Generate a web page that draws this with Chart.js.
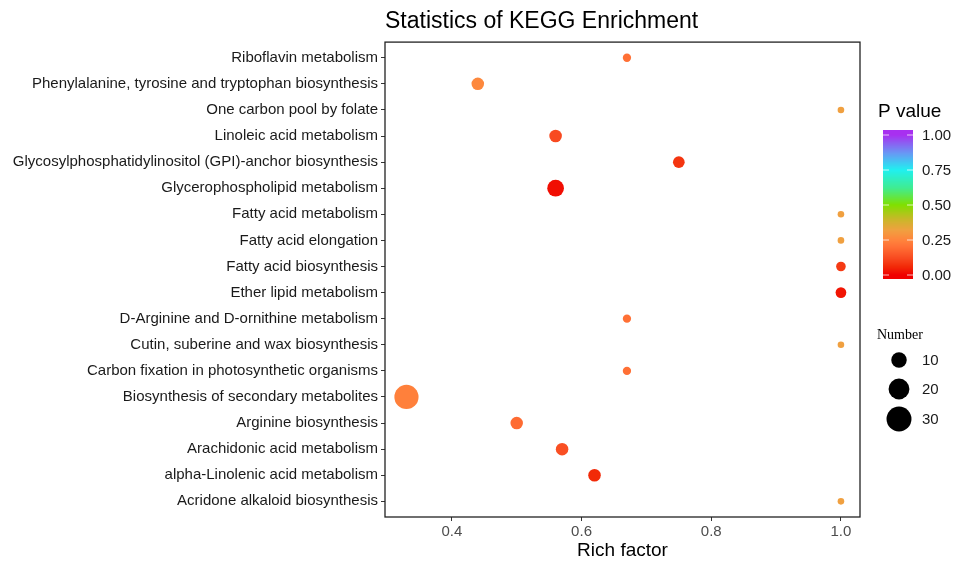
<!DOCTYPE html>
<html><head><meta charset="utf-8">
<script src="https://cdn.jsdelivr.net/npm/chart.js@4.4.0/dist/chart.umd.min.js"></script>
<style>html,body{margin:0;padding:0;background:#fff;}</style>
</head><body>
<canvas id="c" width="955" height="562"></canvas>
<script>
// ---------------- data ----------------
const pathways = [
  "Riboflavin metabolism",
  "Phenylalanine, tyrosine and tryptophan biosynthesis",
  "One carbon pool by folate",
  "Linoleic acid metabolism",
  "Glycosylphosphatidylinositol (GPI)-anchor biosynthesis",
  "Glycerophospholipid metabolism",
  "Fatty acid metabolism",
  "Fatty acid elongation",
  "Fatty acid biosynthesis",
  "Ether lipid metabolism",
  "D-Arginine and D-ornithine metabolism",
  "Cutin, suberine and wax biosynthesis",
  "Carbon fixation in photosynthetic organisms",
  "Biosynthesis of secondary metabolites",
  "Arginine biosynthesis",
  "Arachidonic acid metabolism",
  "alpha-Linolenic acid metabolism",
  "Acridone alkaloid biosynthesis"
];
const richFactor = [0.67, 0.44, 1.0, 0.56, 0.75, 0.56, 1.0, 1.0, 1.0, 1.0, 0.67, 1.0, 0.67, 0.33, 0.50, 0.57, 0.62, 1.0];
const geneNumber = [2, 6, 1, 6, 5, 12, 1, 1, 3, 4, 2, 1, 2, 28, 6, 6, 6, 1];
const pValue     = [0.20, 0.26, 0.32, 0.12, 0.08, 0.02, 0.32, 0.32, 0.09, 0.03, 0.20, 0.32, 0.20, 0.24, 0.19, 0.13, 0.06, 0.32];
const xTicks = [0.4, 0.6, 0.8, 1.0];
const pTicks = [0, 0.25, 0.5, 0.75, 1.0];
const sizeLegend = [10, 20, 30];

// ---------------- styles ----------------
const FONT = "'Liberation Sans', Arial, sans-serif";
const gradStops = [
  [0.00, [240, 0, 0]],
  [0.06, [242, 42, 8]],
  [0.12, [248, 74, 32]],
  [0.20, [255, 112, 53]],
  [0.25, [255, 132, 60]],
  [0.32, [240, 160, 64]],
  [0.40, [200, 184, 40]],
  [0.50, [128, 224, 0]],
  [0.62, [64, 236, 144]],
  [0.75, [32, 240, 240]],
  [0.87, [104, 152, 244]],
  [1.00, [168, 48, 240]]
];
function colorOf(p) {
  p = Math.max(0, Math.min(1, p));
  for (let i = 1; i < gradStops.length; i++) {
    const [p1, c1] = gradStops[i];
    const [p0, c0] = gradStops[i - 1];
    if (p <= p1) {
      const t = (p - p0) / (p1 - p0);
      const c = c0.map((v, k) => Math.round(v + (c1[k] - v) * t));
      return `rgb(${c[0]},${c[1]},${c[2]})`;
    }
  }
  const c = gradStops[gradStops.length - 1][1];
  return `rgb(${c[0]},${c[1]},${c[2]})`;
}
function radiusOf(n) { return (2.5 + 4.1 * Math.sqrt(n)) / 2; }

const points = pathways.map((name, i) => ({ x: richFactor[i], y: i + 1 }));

const legendPlugin = {
  id: 'legends',
  afterDraw(chart) {
    const ctx = chart.ctx;
    const ca = chart.chartArea;
    ctx.save();
    // panel border
    ctx.strokeStyle = '#222';
    ctx.lineWidth = 1.3;
    ctx.strokeRect(ca.left, ca.top, ca.right - ca.left, ca.bottom - ca.top);

    // P value colour bar
    ctx.fillStyle = '#000';
    ctx.font = `19px ${FONT}`;
    ctx.textAlign = 'left';
    ctx.textBaseline = 'middle';
    ctx.fillText('P value', 878, 112);
    const barL = 883, barW = 30, barTop = 130, barBot = 279, y0 = 275, y1 = 135;
    for (let y = barTop; y < barBot; y++) {
      const p = (y0 - (y + 0.5)) / (y0 - y1);
      ctx.fillStyle = colorOf(p);
      ctx.fillRect(barL, y, barW, 1);
    }
    ctx.strokeStyle = 'rgba(255,255,255,0.75)';
    ctx.lineWidth = 1;
    ctx.font = `15px ${FONT}`;
    pTicks.forEach(t => {
      const y = y0 - t * (y0 - y1);
      ctx.beginPath();
      ctx.moveTo(barL, y); ctx.lineTo(barL + 6, y);
      ctx.moveTo(barL + barW - 6, y); ctx.lineTo(barL + barW, y);
      ctx.stroke();
      ctx.fillStyle = '#1a1a1a';
      ctx.fillText(t.toFixed(2), 922, y + 0.5);
    });

    // Number size legend
    ctx.fillStyle = '#000';
    ctx.font = `14px 'Liberation Serif', 'Times New Roman', serif`;
    ctx.fillText('Number', 877, 335);
    const ys = [360, 389, 419];
    ctx.font = `15px ${FONT}`;
    sizeLegend.forEach((n, i) => {
      ctx.fillStyle = '#000';
      ctx.beginPath();
      ctx.arc(899, ys[i], radiusOf(n), 0, Math.PI * 2);
      ctx.fill();
      ctx.fillStyle = '#1a1a1a';
      ctx.fillText(String(n), 922, ys[i] + 0.5);
    });
    ctx.restore();
  }
};

new Chart(document.getElementById('c'), {
  type: 'scatter',
  data: {
    datasets: [{
      data: points,
      pointRadius: c => radiusOf(geneNumber[c.dataIndex]),
      pointHoverRadius: c => radiusOf(geneNumber[c.dataIndex]),
      backgroundColor: c => colorOf(pValue[c.dataIndex]),
      borderColor: c => colorOf(pValue[c.dataIndex]),
      borderWidth: 0
    }]
  },
  options: {
    responsive: false,
    animation: false,
    events: [],
    layout: { padding: { left: 0, right: 95, top: 0, bottom: 0 } },
    plugins: {
      legend: { display: false },
      tooltip: { enabled: false },
      title: {
        display: true,
        text: 'Statistics of KEGG Enrichment',
        align: 'start',
        fullSize: false,
        color: '#000',
        font: { family: FONT, size: 23, weight: 'normal' },
        padding: { top: 8, bottom: 6.5 }
      }
    },
    scales: {
      x: {
        type: 'linear',
        min: 0.2969,
        max: 1.0294,
        afterBuildTicks: s => { s.ticks = xTicks.map(v => ({ value: v })); },
        afterFit: s => { s.height = 45; },
        ticks: {
          color: '#4d4d4d',
          font: { family: FONT, size: 15 },
          padding: 2,
          callback: v => Number(v).toFixed(1)
        },
        grid: { drawOnChartArea: false, drawTicks: true, tickLength: 4, color: '#333' },
        border: { display: false },
        title: {
          display: true,
          text: 'Rich factor',
          color: '#000',
          font: { family: FONT, size: 19 },
          padding: { top: 0, bottom: 0 }
        }
      },
      y: {
        type: 'linear',
        reverse: true,
        min: 0.4,
        max: 18.6,
        afterBuildTicks: s => { s.ticks = pathways.map((_, i) => ({ value: i + 1 })); },
        afterFit: s => { s.width = 385; },
        ticks: {
          autoSkip: false,
          padding: 3,
          color: '#1a1a1a',
          font: { family: FONT, size: 15 },
          callback: v => pathways[Math.round(v) - 1]
        },
        grid: { drawOnChartArea: false, drawTicks: true, tickLength: 4, color: '#333' },
        border: { display: false }
      }
    }
  },
  plugins: [legendPlugin]
});
</script>
</body></html>
